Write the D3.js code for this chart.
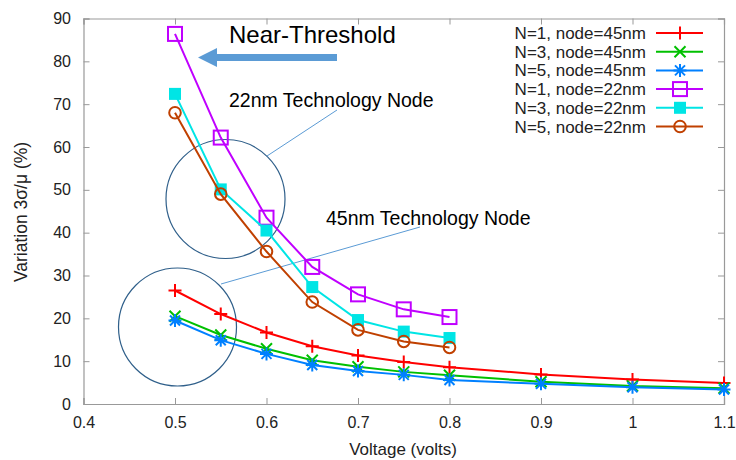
<!DOCTYPE html>
<html><head><meta charset="utf-8">
<script src="https://cdn.jsdelivr.net/npm/d3@7"></script>
<style>
body{margin:0;background:#fff;}
text{font-family:"Liberation Sans",Arial,Helvetica,sans-serif;}
</style></head>
<body><svg id="c" width="736" height="460"></svg>
<script>
const voltsLong = [0.5,0.55,0.6,0.65,0.7,0.75,0.8,0.9,1.0,1.1];
const voltsShort = [0.5,0.55,0.6,0.65,0.7,0.75,0.8];
const n1_45 = [26.5,21.0,16.7,13.5,11.3,9.8,8.6,6.9,5.7,4.9];
const n3_45 = [20.5,16.1,12.9,10.2,8.7,7.5,6.7,5.2,4.2,3.7];
const n5_45 = [19.5,14.9,11.7,9.1,7.7,6.8,5.6,4.7,3.9,3.4];
const n1_22 = [86.4,62.2,43.5,32.0,25.6,22.1,20.3];
const n3_22 = [72.4,50.1,40.5,27.3,19.6,16.9,15.4];
const n5_22 = [68.0,49.0,35.6,23.8,17.3,14.6,13.2];
const seriesNames = ["N=1, node=45nm","N=3, node=45nm","N=5, node=45nm","N=1, node=22nm","N=3, node=22nm","N=5, node=22nm"];
const seriesColors = ["#ff0000","#00c000","#0080ff","#c000ff","#00e5e5","#c04000"];
const seriesMarkers = ["plus","cross","star","square","fsquare","circle"];
const xTicks = [0.4,0.5,0.6,0.7,0.8,0.9,1.0,1.1];
const yTicks = [0,10,20,30,40,50,60,70,80,90];
const annotations = ["Near-Threshold","22nm Technology Node","45nm Technology Node"];

const series = [
  {name:seriesNames[0], xs:voltsLong, ys:n1_45},
  {name:seriesNames[1], xs:voltsLong, ys:n3_45},
  {name:seriesNames[2], xs:voltsLong, ys:n5_45},
  {name:seriesNames[3], xs:voltsShort, ys:n1_22},
  {name:seriesNames[4], xs:voltsShort, ys:n3_22},
  {name:seriesNames[5], xs:voltsShort, ys:n5_22}
];

const svg = d3.select("#c");
const L=83.5, R=724, T=18.5, B=404;
const x = d3.scaleLinear().domain([0.4,1.1]).range([L,R]);
const y = d3.scaleLinear().domain([0,90]).range([B,T]);
const axisColor="#999";

// axes
const fmt = d => d===1?"1":d3.format(".1f")(d);
const gx = svg.append("g").attr("transform",`translate(0,${B})`)
  .call(d3.axisBottom(x).tickValues(xTicks).tickFormat(fmt).tickSize(-6).tickPadding(12.6));
const gy = svg.append("g").attr("transform",`translate(${L},0)`)
  .call(d3.axisLeft(y).tickValues(yTicks).tickSize(-6).tickPadding(12.5));
const gt = svg.append("g").attr("transform",`translate(0,${T})`)
  .call(d3.axisTop(x).tickValues(xTicks).tickFormat("").tickSize(-6));
const gr = svg.append("g").attr("transform",`translate(${R},0)`)
  .call(d3.axisRight(y).tickValues(yTicks).tickFormat("").tickSize(-6));
[gx,gy,gt,gr].forEach(g=>{
  g.select(".domain").attr("stroke",axisColor).attr("stroke-width",1.2);
  g.selectAll(".tick line").attr("stroke",axisColor);
  g.selectAll(".tick text").attr("fill","#222").style("font-size","16px");
});

svg.append("text").attr("x",403).attr("y",455).attr("text-anchor","middle")
  .style("font-size","17px").attr("fill","#222").text("Voltage (volts)");
svg.append("text").attr("transform","translate(27,212) rotate(-90)").attr("text-anchor","middle")
  .style("font-size","17.5px").attr("fill","#222").text("Variation 3σ/μ (%)");

// annotations
const ann = svg.append("g");
const circColor="#2f5f8a";
ann.append("circle").attr("cx",225.5).attr("cy",199).attr("r",59.5).attr("fill","none").attr("stroke",circColor).attr("stroke-width",1.2);
ann.append("circle").attr("cx",177.5).attr("cy",327).attr("r",59).attr("fill","none").attr("stroke",circColor).attr("stroke-width",1.2);
ann.append("line").attr("x1",267).attr("y1",156).attr("x2",337).attr("y2",110).attr("stroke","#5b9bd5").attr("stroke-width",1);
ann.append("line").attr("x1",221).attr("y1",284).attr("x2",420).attr("y2",227).attr("stroke","#5b9bd5").attr("stroke-width",1);
ann.append("path").attr("d","M198,57.5 L217,48 L217,54 L337,54 L337,61 L217,61 L217,67 Z").attr("fill","#5b9bd5");
ann.append("text").attr("x",229).attr("y",43).style("font-size","24px").attr("fill","#000").text(annotations[0]);
ann.append("text").attr("x",229).attr("y",107).style("font-size","19.5px").attr("fill","#000").text(annotations[1]);
ann.append("text").attr("x",326).attr("y",225).style("font-size","19.5px").attr("fill","#000").text(annotations[2]);

function marker(g, type, color){
  const s=6.5;
  if(type==="plus"){
    g.append("path").attr("d",`M${-s},0H${s}M0,${-s}V${s}`).attr("stroke",color).attr("stroke-width",2).attr("fill","none");
  } else if(type==="cross"){
    const c=5.5;
    g.append("path").attr("d",`M${-c},${-c}L${c},${c}M${-c},${c}L${c},${-c}`).attr("stroke",color).attr("stroke-width",2).attr("fill","none");
  } else if(type==="star"){
    const c=5;
    g.append("path").attr("d",`M${-s},0H${s}M0,${-s}V${s}M${-c},${-c}L${c},${c}M${-c},${c}L${c},${-c}`).attr("stroke",color).attr("stroke-width",2).attr("fill","none");
  } else if(type==="square"){
    g.append("rect").attr("x",-7).attr("y",-7).attr("width",14).attr("height",14).attr("fill","none").attr("stroke",color).attr("stroke-width",2);
  } else if(type==="fsquare"){
    g.append("rect").attr("x",-6).attr("y",-6).attr("width",12).attr("height",12).attr("fill",color);
  } else if(type==="circle"){
    g.append("circle").attr("r",5.8).attr("fill","none").attr("stroke",color).attr("stroke-width",2);
  }
}

// data
const line = d3.line().x(d=>x(d[0])).y(d=>y(d[1]));
series.forEach((s,i)=>{
  const pts = s.xs.map((v,j)=>[v,s.ys[j]]);
  const g = svg.append("g");
  g.append("path").attr("d",line(pts)).attr("fill","none").attr("stroke",seriesColors[i]).attr("stroke-width",2);
  pts.forEach(p=>{
    const m = g.append("g").attr("transform",`translate(${x(p[0])},${y(p[1])})`);
    marker(m, seriesMarkers[i], seriesColors[i]);
  });
});

// legend
const lg = svg.append("g");
seriesNames.forEach((n,i)=>{
  const cy = 33 + i*18.7;
  lg.append("text").attr("x",646).attr("y",cy+6).attr("text-anchor","end")
    .style("font-size","17px").attr("fill","#222").text(n);
  lg.append("line").attr("x1",656).attr("x2",703).attr("y1",cy).attr("y2",cy).attr("stroke",seriesColors[i]).attr("stroke-width",2);
  const m = lg.append("g").attr("transform",`translate(680,${cy})`);
  marker(m, seriesMarkers[i], seriesColors[i]);
});
</script></body></html>
